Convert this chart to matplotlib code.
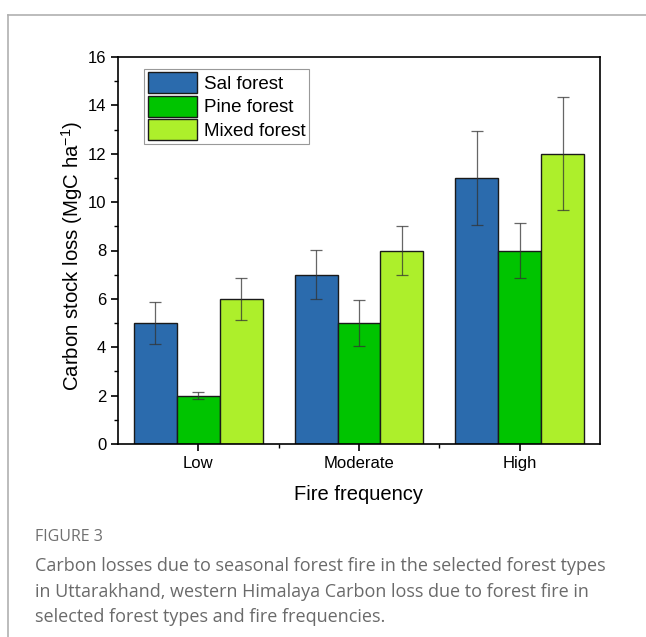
import matplotlib.pyplot as plt
import numpy as np
from matplotlib.ticker import MultipleLocator, FixedLocator

# data
categories = ["Low", "Moderate", "High"]
series = ["Sal forest", "Pine forest", "Mixed forest"]
sal = [5, 7, 11]
pine = [2, 5, 8]
mixed = [6, 8, 12]
sal_err = [0.87, 1.02, 1.95]
pine_err = [0.15, 0.96, 1.12]
mixed_err = [0.87, 1.02, 2.33]
colors = ["#2B6BAD", "#00C400", "#ADEF2B"]

plt.rcParams['font.family'] = ['Liberation Sans', 'DejaVu Sans']

fig = plt.figure(figsize=(6.46, 6.37), dpi=100)

# frame lines of the figure panel
fig.add_artist(plt.Line2D([8 / 646, 8 / 646], [0, 1 - 15 / 637], color="#b0b0b0", lw=1.2))
fig.add_artist(plt.Line2D([8 / 646, 1], [1 - 15 / 637, 1 - 15 / 637], color="#b0b0b0", lw=1.2))

ax = fig.add_axes([118 / 646, 1 - 444 / 637, (600 - 118) / 646, (444 - 57) / 637])

x = np.arange(1, len(categories) + 1)
w = 0.8 / 3
vals = [sal, pine, mixed]
errs = [sal_err, pine_err, mixed_err]
for i in range(3):
    ax.bar(x + (i - 1) * w, vals[i], w, color=colors[i], edgecolor="#1a1a1a",
           linewidth=1.0, label=series[i], zorder=2)
    ax.errorbar(x + (i - 1) * w, vals[i], yerr=errs[i], fmt="none",
                ecolor="#333333", alpha=0.75, elinewidth=0.9, capsize=4,
                capthick=0.9, zorder=3)

ax.set_xlim(0.5, 3.5)
ax.set_ylim(0, 16)
ax.set_xticks(x)
ax.set_xticklabels(categories)
ax.xaxis.set_minor_locator(FixedLocator([1.5, 2.5]))
ax.yaxis.set_major_locator(MultipleLocator(2))
ax.yaxis.set_minor_locator(MultipleLocator(1))
ax.tick_params(which="major", direction="out", length=5, width=1.2, labelsize=12)
ax.tick_params(which="minor", direction="out", length=3, width=1.0)
for s in ax.spines.values():
    s.set_linewidth(1.2)

ax.set_ylabel("Carbon stock loss (MgC ha$^{\\mathregular{-1}}$)", fontsize=14.7)
ax.yaxis.set_label_coords(-0.068, 0.485)
ax.set_xlabel("Fire frequency", fontsize=14.5, labelpad=10)

leg = ax.legend(loc="upper left", bbox_to_anchor=(0.054, 0.97), fontsize=13.5,
                fancybox=False, edgecolor="#999999", framealpha=1,
                handlelength=2.6, handleheight=1.35, handletextpad=0.4,
                labelspacing=0.12, borderpad=0.2, borderaxespad=0)
leg.get_frame().set_linewidth(0.8)

# caption
fig.text(35 / 646, 1 - 537 / 637, "FIGURE 3", fontsize=11.5, color="#707070",
         family=["Open Sans", "DejaVu Sans"], va="center")
caption = ("Carbon losses due to seasonal forest fire in the selected forest types\n"
           "in Uttarakhand, western Himalaya Carbon loss due to forest fire in\n"
           "selected forest types and fire frequencies.")
fig.text(35 / 646, 1 - 557 / 637, caption, fontsize=13, color="#6a6a6a",
         family=["Open Sans", "DejaVu Sans"], va="top", linespacing=1.55)

fig.savefig("out.png", dpi=100)
